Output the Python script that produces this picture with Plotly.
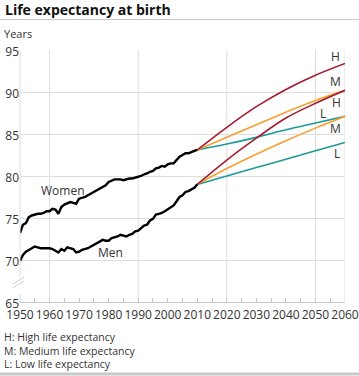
import plotly.graph_objects as go

hist_years = list(range(1950, 2011))
women_hist = [73.2, 74.2, 74.4, 75.1, 75.3, 75.4, 75.5, 75.5, 75.6, 75.8,
              75.8, 76.1, 76.0, 75.5, 76.3, 76.6, 76.8, 76.9, 76.8, 76.7,
              77.3, 77.4, 77.5, 77.7, 77.9, 78.1, 78.3, 78.6, 78.8, 78.9,
              79.3, 79.5, 79.6, 79.6, 79.6, 79.5, 79.6, 79.7, 79.7, 79.8,
              79.9, 80.0, 80.2, 80.3, 80.5, 80.6, 80.9, 81.0, 81.2, 81.1,
              81.4, 81.5, 81.5, 81.9, 82.3, 82.5, 82.7, 82.7, 82.9, 83.0,
              83.1]
men_hist = [69.9, 70.6, 71.0, 71.2, 71.4, 71.6, 71.5, 71.4, 71.4, 71.4,
            71.4, 71.3, 71.1, 70.9, 71.3, 71.1, 71.5, 71.4, 71.3, 70.9,
            71.0, 71.2, 71.3, 71.4, 71.6, 71.8, 72.0, 72.2, 72.4, 72.3,
            72.3, 72.6, 72.7, 72.8, 73.0, 72.9, 72.8, 73.0, 73.1, 73.4,
            73.5, 73.8, 74.1, 74.2, 74.7, 74.9, 75.4, 75.5, 75.6, 75.8,
            76.0, 76.2, 76.5, 77.0, 77.5, 77.7, 78.1, 78.2, 78.4, 78.6,
            79.0]

proj_years = [2010, 2020, 2030, 2040, 2050, 2060]
women_high = [83.1, 85.8, 88.25, 90.3, 92.0, 93.4]
women_med = [83.1, 84.6, 86.1, 87.6, 89.0, 90.2]
women_low = [83.1, 83.8, 84.6, 85.5, 86.3, 87.1]
men_high = [79.0, 81.9, 84.5, 86.9, 88.65, 90.2]
men_med = [79.0, 80.9, 82.6, 84.2, 85.7, 87.1]
men_low = [79.0, 80.0, 81.0, 82.0, 83.0, 84.0]

x_ticks = list(range(1950, 2061, 10))
y_ticks = [65, 70, 75, 80, 85, 90, 95]
x_grid = [1960, 1990, 2020, 2050, 2060]

legend_lines = ["H: High life expectancy",
                "M: Medium life expectancy",
                "L: Low life expectancy"]

RED = "#a51c30"
ORANGE = "#f7a02e"
TEAL = "#1a9a98"
FONT = "Open Sans"
TXT = "#333333"
GRID = "#dedede"

fig = go.Figure()

for vals, col in [(women_low, TEAL), (men_low, TEAL),
                  (women_med, ORANGE), (men_med, ORANGE),
                  (women_high, RED), (men_high, RED)]:
    fig.add_trace(go.Scatter(x=proj_years, y=vals, mode="lines",
                             line=dict(color=col, width=1.6, shape="spline"),
                             hoverinfo="skip", showlegend=False))

for vals in [women_hist, men_hist]:
    fig.add_trace(go.Scatter(x=hist_years, y=vals, mode="lines",
                             line=dict(color="black", width=2.4),
                             hoverinfo="skip", showlegend=False))

shapes = []
for g in x_grid:
    shapes.append(dict(type="line", xref="x", yref="paper", x0=g, x1=g, y0=0, y1=1,
                       line=dict(color=GRID, width=1), layer="below"))


def px(xp):
    return (xp - 20) / 325.0


def py(yp):
    return (302 - yp) / 252.0


# left axis with break
shapes.append(dict(type="line", xref="paper", yref="paper", x0=0, x1=0, y0=py(302), y1=py(294),
                   line=dict(color=GRID, width=1)))
shapes.append(dict(type="line", xref="paper", yref="paper", x0=0, x1=0, y0=py(276), y1=py(50),
                   line=dict(color=GRID, width=1)))
for off in [0, 4]:
    shapes.append(dict(type="line", xref="paper", yref="paper",
                       x0=px(13), x1=px(24), y0=py(288 - off), y1=py(281 - off),
                       line=dict(color="#cfcfcf", width=1)))
# title rule and bottom rule
shapes.append(dict(type="line", xref="paper", yref="paper", x0=px(0), x1=px(359),
                   y0=py(19.5), y1=py(19.5), line=dict(color="#c8c8c8", width=1)))
shapes.append(dict(type="line", xref="paper", yref="paper", x0=px(0), x1=px(359),
                   y0=py(374), y1=py(374), line=dict(color="#c8c8c8", width=3)))

ann = []


def text(x, y, s, size=12, xanchor="center", xref="x", yref="y", color=TXT, family=FONT,
         align="center"):
    ann.append(dict(x=x, y=y, xref=xref, yref=yref, text=s, showarrow=False,
                    xanchor=xanchor, yanchor="middle", align=align,
                    font=dict(size=size, color=color, family=family)))


text(px(3), py(10), "<b>Life expectancy at birth</b>", size=14, xanchor="left",
     xref="paper", yref="paper", color="#111111")
text(px(2), py(33), "Years", size=11, xanchor="left", xref="paper", yref="paper")
text(px(2), py(350.5), "<br>".join(legend_lines), size=10.5, xanchor="left",
     xref="paper", yref="paper", align="left")

text(1964.4, 78.3, "Women", size=12)
text(1980.5, 70.9, "Men", size=12)
text(2056.8, 94.2, "H")
text(2056.8, 91.2, "M")
text(2057.0, 88.8, "H")
text(2052.6, 87.4, "L")
text(2056.8, 85.7, "M")
text(2057.4, 82.7, "L")

fig.update_layout(
    width=359, height=376,
    margin=dict(l=20, r=14, t=50, b=74),
    paper_bgcolor="white", plot_bgcolor="white",
    shapes=shapes, annotations=ann,
    font=dict(family=FONT, size=12, color=TXT),
    xaxis=dict(range=[1950, 2060], tickvals=x_ticks, showgrid=False, tickangle=0,
               automargin=False, ticklabelstandoff=2,
               ticks="inside", ticklen=4, tickcolor="#c8c8c8",
               showline=True, linecolor="#c8c8c8", linewidth=1,
               minor=dict(dtick=5, ticks="inside", ticklen=4, tickcolor="#c8c8c8", showgrid=False),
               tickfont=dict(size=12, color=TXT, family=FONT), zeroline=False, fixedrange=True),
    yaxis=dict(range=[65, 95], tickvals=y_ticks, showgrid=True, gridcolor=GRID,
               automargin=False, ticklabelshift=2,
               ticks="", showline=False, zeroline=False,
               tickfont=dict(size=12, color=TXT, family=FONT), fixedrange=True),
)

fig.write_html("out.html", config={"displayModeBar": False},
               post_script="document.body.style.margin='0';")
